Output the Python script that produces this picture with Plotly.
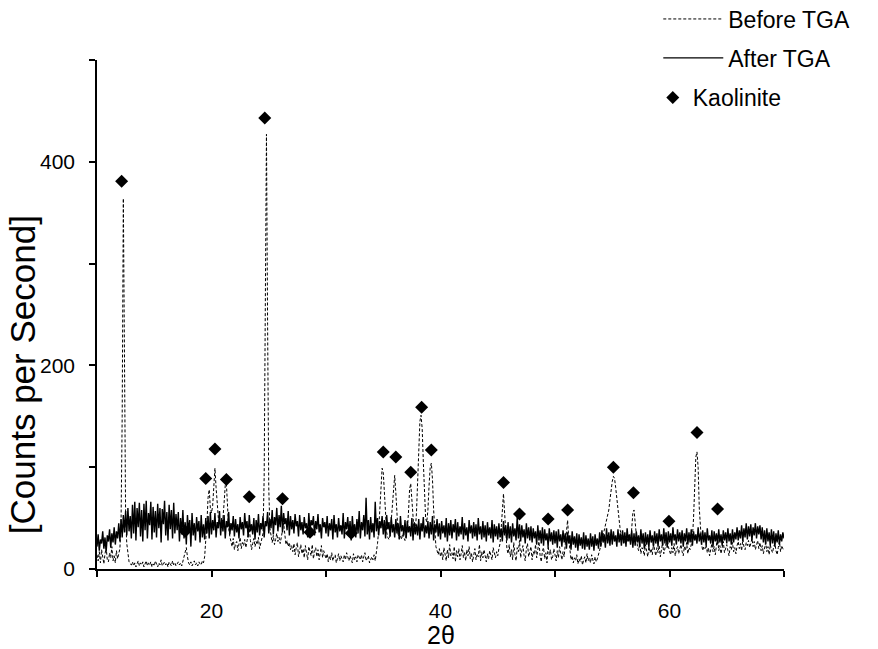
import numpy as np
import plotly.graph_objects as go

# XRD scans, 2-theta from 10.0 to 70.0 deg in 0.1 deg steps (counts per second)
after_tga = [
    22, 34, 18, 29, 25, 37, 20, 31, 17, 33,
    27, 39, 21, 35, 26, 41, 24, 37, 30, 45,
    27, 49, 31, 53, 36, 57, 33, 60, 37, 52,
    30, 63, 35, 66, 28, 60, 41, 65, 32, 58,
    27, 64, 38, 67, 30, 55, 43, 66, 29, 61,
    36, 57, 31, 64, 40, 60, 26, 59, 44, 67,
    33, 56, 28, 63, 39, 58, 30, 65, 35, 54,
    38, 56, 27, 50, 34, 58, 30, 46, 24, 53,
    36, 48, 22, 55, 33, 45, 28, 51, 37, 47,
    26, 53, 31, 44, 29, 50, 35, 52, 30, 56,
    34, 48, 38, 55, 31, 46, 40, 57, 33, 50,
    37, 53, 30, 47, 41, 56, 34, 45, 38, 52,
    32, 49, 36, 44, 30, 51, 39, 46, 33, 55,
    40, 47, 31, 53, 37, 44, 34, 50, 29, 48,
    36, 54, 33, 45, 39, 52, 31, 47, 42, 56,
    35, 49, 40, 58, 34, 51, 43, 60, 37, 53,
    41, 62, 36, 55, 44, 50, 38, 57, 33, 52,
    39, 48, 35, 54, 42, 47, 32, 53, 38, 46,
    34, 51, 40, 45, 31, 55, 37, 48, 43, 52,
    33, 47, 39, 54, 36, 44, 30, 50, 41, 46,
    35, 52, 32, 45, 38, 49, 29, 53, 36, 44,
    31, 50, 37, 43, 34, 55, 30, 46, 39, 51,
    33, 47, 28, 52, 36, 44, 31, 49, 35, 57,
    30, 46, 38, 53, 32, 70, 34, 48, 29, 51,
    36, 45, 31, 66, 37, 50, 33, 47, 40, 52,
    34, 48, 30, 53, 39, 46, 32, 51, 36, 44,
    31, 49, 35, 45, 29, 52, 37, 43, 33, 48,
    30, 47, 36, 42, 32, 50, 28, 46, 34, 44,
    33, 49, 29, 45, 37, 51, 31, 43, 35, 47,
    30, 46, 34, 52, 28, 44, 36, 49, 32, 45,
    29, 47, 35, 43, 31, 50, 27, 45, 33, 48,
    30, 44, 36, 49, 28, 46, 32, 42, 34, 51,
    29, 45, 33, 41, 27, 48, 35, 43, 30, 46,
    32, 44, 28, 50, 34, 42, 29, 47, 31, 43,
    27, 46, 33, 41, 30, 48, 26, 44, 32, 42,
    29, 45, 31, 40, 27, 47, 33, 43, 28, 46,
    30, 42, 26, 45, 32, 40, 28, 51, 30, 44,
    27, 43, 31, 39, 25, 45, 30, 41, 28, 42,
    26, 40, 30, 37, 24, 43, 28, 38, 25, 41,
    23, 39, 28, 35, 22, 40, 27, 36, 24, 38,
    25, 37, 21, 39, 27, 34, 22, 38, 26, 35,
    20, 36, 25, 33, 19, 37, 24, 32, 21, 35,
    18, 34, 23, 31, 20, 36, 19, 33, 22, 30,
    19, 35, 22, 32, 18, 34, 23, 30, 20, 36,
    22, 38, 26, 34, 21, 40, 25, 36, 23, 39,
    24, 37, 27, 33, 22, 39, 26, 35, 23, 38,
    25, 36, 22, 40, 27, 34, 24, 38, 21, 35,
    23, 37, 26, 33, 22, 39, 25, 35, 20, 36,
    24, 34, 21, 38, 26, 33, 22, 37, 25, 35,
    22, 39, 27, 34, 23, 40, 25, 36, 21, 37,
    26, 35, 23, 41, 28, 34, 24, 39, 27, 36,
    25, 38, 22, 35, 27, 40, 24, 36, 26, 39,
    23, 37, 28, 34, 25, 41, 27, 35, 24, 38,
    26, 36, 23, 40, 28, 33, 25, 38, 22, 37,
    27, 35, 24, 39, 26, 34, 23, 38, 28, 36,
    25, 40, 27, 35, 24, 39, 26, 36, 29, 41,
    28, 38, 30, 43, 27, 40, 31, 45, 29, 42,
    32, 44, 28, 41, 33, 45, 30, 42, 34, 43,
    29, 41, 26, 38, 24, 40, 27, 36, 23, 39,
    25, 37, 22, 35, 26, 38, 24, 34, 27, 36,
    30,
]

before_tga = [
    14, 8, 17, 6, 19, 10, 5, 15, 21, 9,
    7, 16, 11, 22, 8, 13, 6, 18, 10, 15,
    20, 45, 150, 364, 160, 50, 25, 12, 7, 5,
    4, 7, 3, 6, 2, 5, 8, 3, 6, 4,
    7, 2, 5, 8, 3, 6, 4, 7, 2, 5,
    3, 8, 5, 2, 6, 4, 9, 3, 5, 7,
    4, 6, 2, 7, 5, 3, 8, 4, 6, 3,
    5, 7, 4, 6, 3, 8, 10, 16, 21, 12,
    6, 4, 7, 3, 5, 8, 4, 6, 3, 7,
    5, 4, 8, 6, 12, 25, 45, 70, 78, 60,
    55, 62, 85, 99, 80, 58, 50, 45, 42, 44,
    50, 65, 82, 84, 60, 40, 32, 28, 22, 30,
    19, 25, 27, 18, 24, 31, 20, 26, 23, 29,
    21, 27, 33, 40, 28, 19, 25, 30, 22, 27,
    24, 31, 20, 26, 29, 35, 90, 250, 427, 240,
    80, 40, 30, 26, 33, 24, 29, 35, 27, 31,
    25, 30, 38, 45, 32, 24, 28, 22, 26, 19,
    23, 17, 25, 14, 21, 26, 12, 19, 24, 15,
    20, 11, 23, 16, 9, 22, 18, 13, 24, 10,
    17, 21, 12, 19, 9, 15, 23, 11, 18, 14,
    10, 15, 7, 13, 9, 16, 8, 12, 14, 6,
    11, 15, 8, 13, 10, 7, 14, 9, 16, 12,
    8, 13, 10, 6, 15, 9, 12, 7, 14, 11,
    9, 14, 7, 12, 16, 8, 11, 13, 6, 10,
    12, 9, 14, 8, 15, 25, 38, 58, 82, 99,
    95, 72, 48, 36, 31, 29, 33, 48, 70, 86,
    92, 75, 46, 34, 30, 33, 29, 35, 31, 28,
    33, 38, 55, 78, 84, 68, 45, 36, 38, 55,
    85, 120, 145, 151, 138, 105, 70, 50, 46, 58,
    82, 100, 104, 88, 58, 35, 22, 18, 14, 20,
    12, 17, 9, 21, 14, 8, 19, 11, 24, 13,
    16, 10, 22, 7, 18, 12, 20, 9, 15, 23,
    11, 17, 8, 19, 13, 22, 10, 16, 7, 14,
    20, 9, 15, 12, 24, 8, 17, 11, 19, 13,
    7, 15, 10, 18, 12, 9, 21, 14, 11, 17,
    13, 20, 25, 40, 60, 74, 55, 30, 20, 15,
    24, 12, 19, 9, 26, 14, 8, 21, 17, 28,
    11, 18, 23, 13, 8, 20, 25, 12, 16, 22,
    9, 17, 14, 24, 11, 19, 27, 13, 7, 18,
    21, 10, 16, 6, 23, 14, 19, 9, 12, 20,
    15, 8, 18, 11, 22, 13, 9, 17, 12, 25,
    38, 48, 30, 16, 9, 13, 6, 11, 8, 14,
    5, 10, 7, 13, 4, 9, 12, 6, 15, 8,
    11, 6, 14, 9, 5, 12, 7, 10, 14, 18,
    22, 27, 33, 38, 42, 45, 50, 58, 68, 78,
    86, 91, 89, 80, 68, 55, 45, 38, 33, 30,
    28, 25, 31, 27, 33, 29, 26, 40, 55, 58,
    45, 30, 22, 18, 25, 15, 21, 19, 13, 24,
    17, 12, 22, 16, 20, 14, 25, 18, 13, 21,
    16, 23, 12, 19, 26, 15, 20, 24, 30, 22,
    18, 14, 21, 16, 25, 13, 19, 22, 15, 20,
    24, 17, 13, 22, 18, 26, 15, 21, 19, 24,
    30, 50, 85, 110, 115, 100, 60, 35, 25, 18,
    22, 20, 24, 16, 21, 13, 19, 25, 17, 22,
    14, 26, 33, 18, 23, 15, 21, 27, 16, 20,
    24, 18, 13, 22, 19, 26, 17, 21, 15, 23,
    27, 20, 25, 18, 29, 22, 19, 26, 23, 28,
    21, 25, 30, 22, 27, 19, 24, 28, 20, 26,
    18, 23, 15, 21, 26, 17, 22, 14, 24, 19,
    16, 22, 25, 18, 14, 21, 27, 17, 23, 20,
    18,
]

# Kaolinite reflections marked above the peaks
kaolinite_2theta = [12.15, 17.7, 19.5, 20.3, 21.3, 23.3, 24.65, 26.2, 28.6, 32.2,
                    35.0, 36.1, 37.4, 38.35, 39.2, 45.5, 46.9, 49.4, 51.1, 55.1,
                    56.85, 59.95, 62.4, 64.2]
kaolinite_cps = [381, 37, 89, 118, 88, 71, 443, 69, 36, 35,
                 115, 110, 95, 159, 117, 85, 54, 49, 58, 100,
                 75, 47, 134, 59]

x_ticks = [10, 20, 30, 40, 50, 60, 70]
x_tick_text = ["", "20", "", "40", "", "60", ""]
y_ticks = [0, 100, 200, 300, 400, 500]
y_tick_text = ["0", "", "200", "", "400", ""]

step = 0.1
theta_before = np.round(10 + step * np.arange(len(before_tga)), 2)
theta_after = np.round(10 + step * np.arange(len(after_tga)), 2)

FONT = "Liberation Sans, Arial, sans-serif"

fig = go.Figure()
fig.add_trace(go.Scatter(
    x=theta_before, y=before_tga, mode="lines", name="Before TGA",
    line=dict(color="black", width=1, dash="3px,2px"),
    legend="legend", legendgroup="b",
))
fig.add_trace(go.Scatter(
    x=theta_after, y=after_tga, mode="lines", name="After TGA",
    line=dict(color="black", width=1.4),
    legend="legend", legendgroup="a",
))
fig.add_trace(go.Scatter(
    x=kaolinite_2theta, y=kaolinite_cps, mode="markers", name="Kaolinite",
    marker=dict(symbol="diamond", size=10, color="black"),
    legend="legend2",
))

axis_common = dict(
    showline=True, linecolor="black", linewidth=1.5,
    ticks="outside", ticklen=6, tickwidth=1.5, tickcolor="black",
    showgrid=False, zeroline=False, mirror=False, automargin=False,
    tickfont=dict(family=FONT, size=21, color="black"),
)

fig.update_layout(
    width=878, height=649,
    margin=dict(l=97, r=94, t=60, b=80, autoexpand=False),
    paper_bgcolor="white", plot_bgcolor="white",
    font=dict(family=FONT, color="black"),
    xaxis=dict(
        range=[10, 70], tickmode="array", tickvals=x_ticks, ticktext=x_tick_text,
        ticklabelstandoff=16, **axis_common,
    ),
    yaxis=dict(
        range=[0, 500], tickmode="array", tickvals=y_ticks, ticktext=y_tick_text,
        ticklabelstandoff=10, **axis_common,
    ),
    legend=dict(
        x=0.817, y=1.1228, xanchor="left", yanchor="top",
        font=dict(family=FONT, size=23), bgcolor="rgba(0,0,0,0)",
        itemwidth=60, tracegroupgap=6,
    ),
    legend2=dict(
        x=0.809, y=0.9686, xanchor="left", yanchor="top",
        font=dict(family=FONT, size=23), bgcolor="rgba(0,0,0,0)",
    ),
    annotations=[
        dict(text="2θ", xref="paper", yref="paper", x=0.5, y=-0.13,
             xanchor="center", yanchor="middle", showarrow=False,
             font=dict(family=FONT, size=25, color="black")),
        dict(text="[Counts per Second]", xref="paper", yref="paper", x=-0.109, y=0.381,
             xanchor="center", yanchor="middle", textangle=-90, showarrow=False,
             font=dict(family=FONT, size=35, color="black")),
    ],
)

fig.write_html("out.html")
